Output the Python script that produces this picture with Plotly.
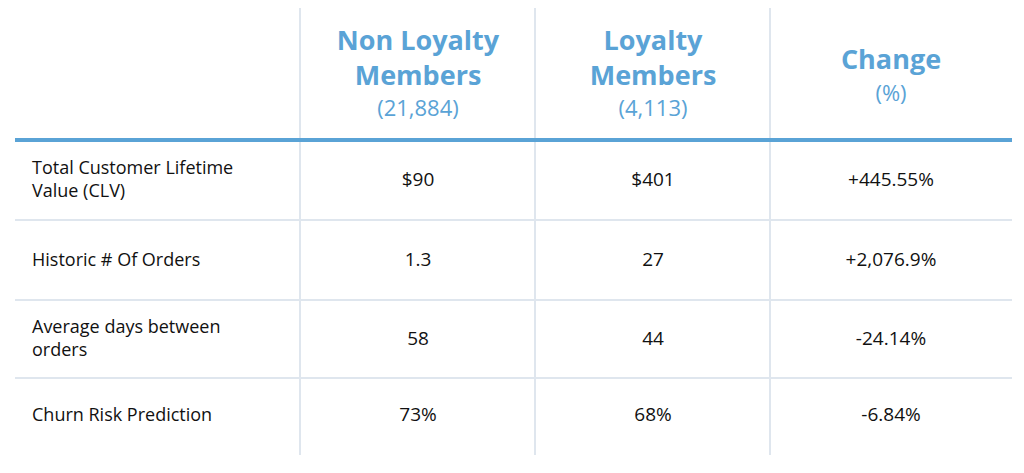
import plotly.graph_objects as go

# table content
columns = ["Non Loyalty<br>Members", "Loyalty<br>Members", "Change"]
col_sub = ["(21,884)", "(4,113)", "(%)"]
metrics = ["Total Customer Lifetime<br>Value (CLV)", "Historic # Of Orders",
           "Average days between<br>orders", "Churn Risk Prediction"]
non_loyal = ["$90", "1.3", "58", "73%"]
loyal = ["$401", "27", "44", "68%"]
change = ["+445.55%", "+2,076.9%", "-24.14%", "-6.84%"]

# layout in pixels (page body adds an 8px offset, compensated in the axis ranges)
col_x = [418, 653, 891]
row_y = [181, 261, 340, 416]
title_y = [61, 61, 62]
sub_y = [110, 110, 95]
blue = "#5aa3d6"
grid = "#dfe6ee"
font = "Open Sans"

fig = go.Figure()
fig.add_trace(go.Scatter(x=col_x, y=title_y, mode="text", text=["<b>%s</b>" % c for c in columns],
                         textfont=dict(family=font, size=27, color=blue)))
fig.add_trace(go.Scatter(x=col_x, y=sub_y, mode="text", text=col_sub,
                         textfont=dict(family=font, size=22, color=blue)))
fig.add_trace(go.Scatter(x=[32] * len(metrics), y=row_y, mode="text", text=metrics,
                         textposition="middle right",
                         textfont=dict(family=font, size=18, color="#111")))
for x, vals in zip(col_x, [non_loyal, loyal, change]):
    fig.add_trace(go.Scatter(x=[x] * len(vals), y=row_y, mode="text", text=vals,
                             textfont=dict(family=font, size=19, color="#111")))

for x in [300, 535, 770]:
    fig.add_shape(type="line", x0=x, x1=x, y0=8, y1=455, line=dict(color=grid, width=2))
for y in [220, 300, 378]:
    fig.add_shape(type="line", x0=15, x1=1012, y0=y, y1=y, line=dict(color=grid, width=2))
fig.add_shape(type="line", x0=15, x1=1012, y0=140, y1=140, line=dict(color=blue, width=4))

fig.update_layout(width=1024, height=473, margin=dict(l=0, r=0, t=0, b=0),
                  plot_bgcolor="white", paper_bgcolor="white", showlegend=False)
fig.update_xaxes(range=[8, 1032], visible=False)
fig.update_yaxes(range=[481, 8], visible=False)
fig.write_html("out.html")
